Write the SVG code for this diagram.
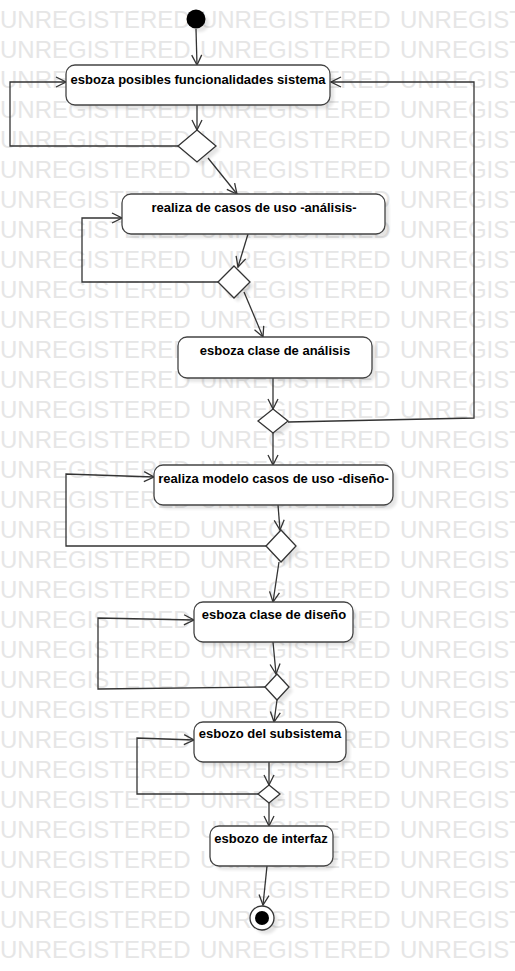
<svg xmlns="http://www.w3.org/2000/svg" width="515" height="971" viewBox="0 0 515 971">
<style>
.wm{font-family:"Liberation Sans",Arial,sans-serif;font-size:24px;fill:#e6e6e6;word-spacing:2.6px}
.box{fill:#fff;stroke:#444;stroke-width:1.3}
.sh{fill:#000;opacity:0.1;filter:url(#blur)}
.lbl{font-family:"Liberation Sans",Arial,sans-serif;font-size:13px;font-weight:bold;fill:#000;text-anchor:middle}
.ln{fill:none;stroke:#333;stroke-width:1.3;marker-end:url(#arr)}
.dm{fill:#fff;stroke:#333;stroke-width:1.3}
</style>
<defs>
<filter id="blur" x="-20%" y="-20%" width="140%" height="140%"><feGaussianBlur stdDeviation="1.5"/></filter>
<marker id="arr" markerUnits="userSpaceOnUse" markerWidth="12" markerHeight="12" viewBox="0 0 12 12" refX="11" refY="6" orient="auto"><path d="M1,1 L11,6 L1,11" fill="none" stroke="#333" stroke-width="1.3"/></marker>
</defs>
<rect width="515" height="971" fill="#fff"/>
<g id="watermark">
<text class="wm" x="0" y="28">UNREGISTERED UNREGISTERED UNREGISTERED</text>
<text class="wm" x="0" y="58">UNREGISTERED UNREGISTERED UNREGISTERED</text>
<text class="wm" x="0" y="88">UNREGISTERED UNREGISTERED UNREGISTERED</text>
<text class="wm" x="0" y="118">UNREGISTERED UNREGISTERED UNREGISTERED</text>
<text class="wm" x="0" y="148">UNREGISTERED UNREGISTERED UNREGISTERED</text>
<text class="wm" x="0" y="178">UNREGISTERED UNREGISTERED UNREGISTERED</text>
<text class="wm" x="0" y="208">UNREGISTERED UNREGISTERED UNREGISTERED</text>
<text class="wm" x="0" y="238">UNREGISTERED UNREGISTERED UNREGISTERED</text>
<text class="wm" x="0" y="268">UNREGISTERED UNREGISTERED UNREGISTERED</text>
<text class="wm" x="0" y="298">UNREGISTERED UNREGISTERED UNREGISTERED</text>
<text class="wm" x="0" y="328">UNREGISTERED UNREGISTERED UNREGISTERED</text>
<text class="wm" x="0" y="358">UNREGISTERED UNREGISTERED UNREGISTERED</text>
<text class="wm" x="0" y="388">UNREGISTERED UNREGISTERED UNREGISTERED</text>
<text class="wm" x="0" y="418">UNREGISTERED UNREGISTERED UNREGISTERED</text>
<text class="wm" x="0" y="448">UNREGISTERED UNREGISTERED UNREGISTERED</text>
<text class="wm" x="0" y="478">UNREGISTERED UNREGISTERED UNREGISTERED</text>
<text class="wm" x="0" y="508">UNREGISTERED UNREGISTERED UNREGISTERED</text>
<text class="wm" x="0" y="538">UNREGISTERED UNREGISTERED UNREGISTERED</text>
<text class="wm" x="0" y="568">UNREGISTERED UNREGISTERED UNREGISTERED</text>
<text class="wm" x="0" y="598">UNREGISTERED UNREGISTERED UNREGISTERED</text>
<text class="wm" x="0" y="628">UNREGISTERED UNREGISTERED UNREGISTERED</text>
<text class="wm" x="0" y="658">UNREGISTERED UNREGISTERED UNREGISTERED</text>
<text class="wm" x="0" y="688">UNREGISTERED UNREGISTERED UNREGISTERED</text>
<text class="wm" x="0" y="718">UNREGISTERED UNREGISTERED UNREGISTERED</text>
<text class="wm" x="0" y="748">UNREGISTERED UNREGISTERED UNREGISTERED</text>
<text class="wm" x="0" y="778">UNREGISTERED UNREGISTERED UNREGISTERED</text>
<text class="wm" x="0" y="808">UNREGISTERED UNREGISTERED UNREGISTERED</text>
<text class="wm" x="0" y="838">UNREGISTERED UNREGISTERED UNREGISTERED</text>
<text class="wm" x="0" y="868">UNREGISTERED UNREGISTERED UNREGISTERED</text>
<text class="wm" x="0" y="898">UNREGISTERED UNREGISTERED UNREGISTERED</text>
<text class="wm" x="0" y="928">UNREGISTERED UNREGISTERED UNREGISTERED</text>
<text class="wm" x="0" y="958">UNREGISTERED UNREGISTERED UNREGISTERED</text>
</g>
<g id="connectors">
<path class="ln" d="M196,29 L197,65"/>
<path class="ln" d="M197,105 L197,130"/>
<path class="ln" d="M178,146 L10,146 L10,82 L66,82"/>
<path class="ln" d="M208,158 L237,194"/>
<path class="ln" d="M248,234 L238,267"/>
<path class="ln" d="M218,282 L82,282 L82,218 L122,218"/>
<path class="ln" d="M244,292 L263,337"/>
<path class="ln" d="M273,378 L273,409"/>
<path class="ln" d="M288,422 L474,418 L474,82 L331,82"/>
<path class="ln" d="M273,433 L273,465"/>
<path class="ln" d="M266,546 L66,546 L66,474 L154,477"/>
<path class="ln" d="M278,505 L280,530"/>
<path class="ln" d="M279,562 L273,602"/>
<path class="ln" d="M265,687 L98,689 L98,618 L194,620"/>
<path class="ln" d="M273,642 L276,674"/>
<path class="ln" d="M277,700 L274,722"/>
<path class="ln" d="M258,794 L137,794 L137,738 L194,740"/>
<path class="ln" d="M269,762 L269,785"/>
<path class="ln" d="M269,803 L269,826"/>
<path class="ln" d="M267,866 L263,905"/>
</g>
<g id="start">
<circle class="sh" cx="200" cy="23" r="9"/>
<circle cx="196" cy="19" r="9.5" fill="#000"/>
</g>
<g id="n1">
<rect class="sh" x="70" y="69" width="264" height="40" rx="9"/>
<rect class="box" x="66" y="65" width="264" height="40" rx="9"/>
<text class="lbl" x="198" y="84">esboza posibles funcionalidades sistema</text>
</g>
<g id="d1">
<polygon class="sh" points="201,134 220,150 201,166 182,150"/>
<polygon class="dm" points="197,130 216,146 197,162 178,146"/>
</g>
<g id="n2">
<rect class="sh" x="126" y="198" width="263" height="40" rx="9"/>
<rect class="box" x="122" y="194" width="263" height="40" rx="9"/>
<text class="lbl" x="254" y="212">realiza de casos de uso -análisis-</text>
</g>
<g id="d2">
<polygon class="sh" points="238,270 254,286 238,302 222,286"/>
<polygon class="dm" points="234,266 250,282 234,298 218,282"/>
</g>
<g id="n3">
<rect class="sh" x="182" y="341" width="194" height="41" rx="9"/>
<rect class="box" x="178" y="337" width="194" height="41" rx="9"/>
<text class="lbl" x="275" y="355">esboza clase de análisis</text>
</g>
<g id="d3">
<polygon class="sh" points="277,413 292,425 277,437 262,425"/>
<polygon class="dm" points="273,409 288,421 273,433 258,421"/>
</g>
<g id="n4">
<rect class="sh" x="158" y="469" width="239" height="40" rx="9"/>
<rect class="box" x="154" y="465" width="239" height="40" rx="9"/>
<text class="lbl" x="273.5" y="483">realiza modelo casos de uso -diseño-</text>
</g>
<g id="d4">
<polygon class="sh" points="285,534 300,550 285,566 270,550"/>
<polygon class="dm" points="281,530 296,546 281,562 266,546"/>
</g>
<g id="n5">
<rect class="sh" x="198" y="606" width="159" height="40" rx="9"/>
<rect class="box" x="194" y="602" width="159" height="40" rx="9"/>
<text class="lbl" x="274" y="619">esboza clase de diseño</text>
</g>
<g id="d5">
<polygon class="sh" points="281,678 293,691 281,704 269,691"/>
<polygon class="dm" points="277,674 289,687 277,700 265,687"/>
</g>
<g id="n6">
<rect class="sh" x="198" y="726" width="152" height="40" rx="9"/>
<rect class="box" x="194" y="722" width="152" height="40" rx="9"/>
<text class="lbl" x="270" y="738">esbozo del subsistema</text>
</g>
<g id="d6">
<polygon class="sh" points="273,789 284,798 273,807 262,798"/>
<polygon class="dm" points="269,785 280,794 269,803 258,794"/>
</g>
<g id="n7">
<rect class="sh" x="214" y="830" width="123" height="40" rx="9"/>
<rect class="box" x="210" y="826" width="123" height="40" rx="9"/>
<text class="lbl" x="271" y="843">esbozo de interfaz</text>
</g>
<g id="end">
<circle class="sh" cx="266" cy="922" r="12"/>
<circle cx="262" cy="918" r="12" fill="#fff" stroke="#333" stroke-width="1.3"/>
<circle cx="262" cy="918" r="7" fill="#000"/>
</g>
</svg>
